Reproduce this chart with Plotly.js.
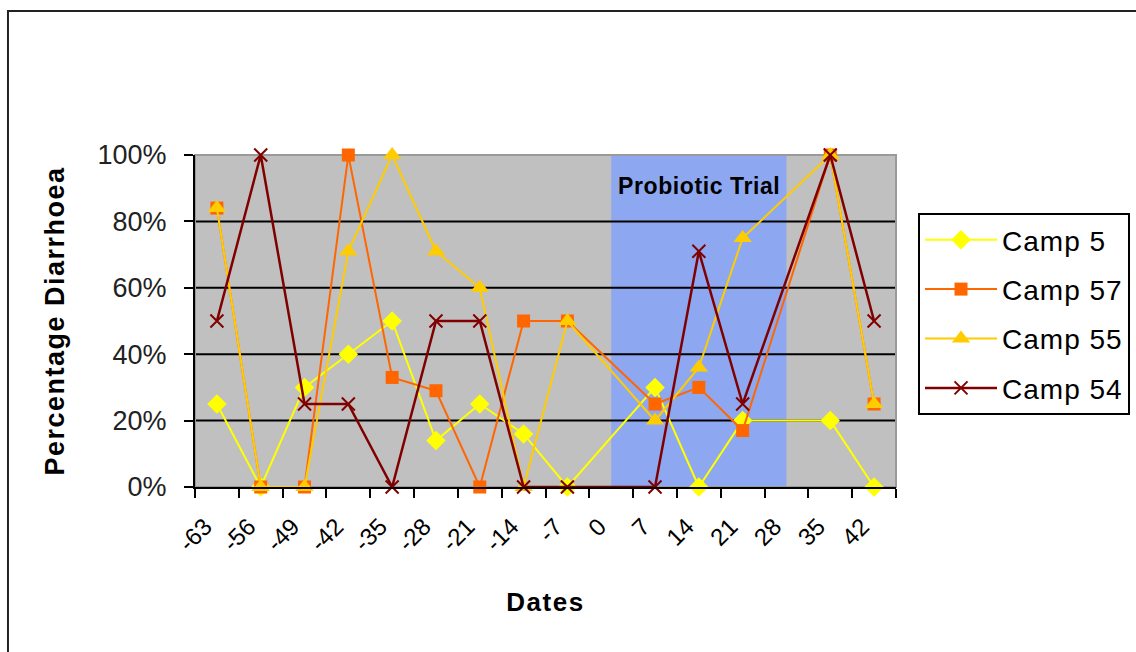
<!DOCTYPE html>
<html>
<head>
<meta charset="utf-8">
<script src="https://cdn.plot.ly/plotly-3.0.1.min.js"></script>
<style>
  html, body { margin: 0; padding: 0; background: #ffffff; }
  #chart { width: 1136px; height: 652px; }
  .xtitle, .ytitle { letter-spacing: 1.5px; }
  .legendtext { letter-spacing: 1px; }
  .annotation-text { letter-spacing: 0.6px; }
</style>
</head>
<body>
<div id="chart"></div>
<script>
// Sampling days relative to the start of the probiotic trial
const days = [-63, -56, -49, -42, -35, -28, -21, -14, -7, 0, 7, 14, 21, 28, 35, 42];
const dayLabels = ["-63", "-56", "-49", "-42", "-35", "-28", "-21", "-14", "-7", "0", "7", "14", "21", "28", "35", "42"];

// Share of animals with diarrhoea per camp (null = no sample that week)
const camp5  = [0.25, 0.00, 0.30, 0.40, 0.50, 0.14, 0.25, 0.16, 0.00, null, 0.30, 0.00, 0.20, null, 0.20, 0.00];
const camp57 = [0.84, 0.00, 0.00, 1.00, 0.33, 0.29, 0.00, 0.50, 0.50, null, 0.25, 0.30, 0.17, null, 1.00, 0.25];
const camp55 = [0.84, 0.00, 0.00, 0.71, 1.00, 0.71, 0.60, 0.00, 0.50, null, 0.20, 0.36, 0.75, null, 1.00, 0.25];
const camp54 = [0.50, 1.00, 0.25, 0.25, 0.00, 0.50, 0.50, 0.00, 0.00, null, 0.00, 0.71, 0.25, null, 1.00, 0.50];

const yTicks = [0, 0.2, 0.4, 0.6, 0.8, 1.0];

// Trial window (days)
const trialStart = 0;
const trialEnd = 28;

const step = 7;
const xMin = days[0] - step / 2;
const xMax = days[days.length - 1] + step / 2;
// category boundaries carry the tick marks
const boundaries = days.map(d => d - step / 2).concat([xMax]);

const FONT = 'Arial, "Liberation Sans", sans-serif';

function series(name, values, color, symbol, size, lineWidth, markerLine) {
  return {
    type: 'scatter',
    mode: 'lines+markers',
    name: name,
    x: days,
    y: values,
    connectgaps: true,
    cliponaxis: false,
    legendgroup: name,
    line: { color: color, width: lineWidth },
    marker: Object.assign({ symbol: symbol, size: size, color: color }, markerLine || {})
  };
}

const traces = [
  series('Camp 5', camp5, '#FFFF00', 'diamond', 15, 2),
  series('Camp 57', camp57, '#FF6600', 'square', 13, 2),
  series('Camp 55', camp55, '#FFCC00', 'triangle-up', 16, 2),
  series('Camp 54', camp54, '#800000', 'x-thin', 13, 2.5, { line: { color: '#800000', width: 2 } })
];

// horizontal gridlines between the axis floor and the frame top
const gridShapes = yTicks.slice(1, -1).map(v => ({
  type: 'line', layer: 'below', xref: 'paper', yref: 'y', x0: 0, x1: 1, y0: v, y1: v,
  line: { color: '#000000', width: 2 }
}));

const layout = {
  width: 1136,
  height: 652,
  margin: { l: 195, r: 240, t: 155, b: 165, autoexpand: false },
  paper_bgcolor: '#ffffff',
  plot_bgcolor: '#C0C0C0',
  font: { family: FONT, color: '#000000' },
  showlegend: true,
  legend: {
    x: 1.0314, xanchor: 'left',
    y: 0.8253, yanchor: 'top',
    bgcolor: '#ffffff',
    bordercolor: '#000000',
    borderwidth: 2,
    font: { family: FONT, size: 28, color: '#000000' },
    tracegroupgap: 10,
    itemwidth: 72
  },
  xaxis: {
    range: [xMin, xMax],
    automargin: false,
    tickmode: 'array',
    tickvals: days,
    ticktext: dayLabels,
    tickangle: -45,
    ticks: '',
    ticklabelshift: -12,
    ticklabelstandoff: 14,
    tickfont: { family: FONT, size: 24, color: '#000000' },
    showgrid: false,
    zeroline: false,
    showline: true,
    linecolor: '#000000',
    linewidth: 2,
    minor: {
      tickmode: 'array',
      tickvals: boundaries,
      ticks: 'outside',
      ticklen: 9,
      tickwidth: 2,
      tickcolor: '#000000',
      showgrid: false
    },
    title: { text: 'Dates', font: { family: FONT, size: 26, color: '#000000', weight: 'bold' }, standoff: 37 }
  },
  yaxis: {
    range: [0, 1],
    automargin: false,
    tickmode: 'array',
    tickvals: yTicks,
    tickformat: '.0%',
    ticks: 'outside',
    ticklen: 9,
    tickwidth: 2,
    tickcolor: '#000000',
    ticklabelstandoff: 12,
    tickfont: { family: FONT, size: 27, color: '#222222' },
    showgrid: false,
    zeroline: false,
    showline: true,
    linecolor: '#000000',
    linewidth: 2,
    title: { text: 'Percentage Diarrhoea', font: { family: FONT, size: 27, color: '#000000', weight: 'bold' }, standoff: 25 }
  },
  shapes: [
    // probiotic trial window
    { type: 'rect', layer: 'below', xref: 'x', yref: 'paper', x0: trialStart, x1: trialEnd, y0: 0, y1: 1,
      fillcolor: '#8DA8F1', line: { width: 0 } }
  ].concat(gridShapes, [
    // plot area frame
    { type: 'rect', layer: 'below', xref: 'paper', yref: 'paper', x0: 0, x1: 1, y0: 0, y1: 1,
      fillcolor: 'rgba(0,0,0,0)', line: { color: '#9A9A9A', width: 2 } },
    // chart frame
    { type: 'rect', layer: 'above', xref: 'paper', yref: 'paper', x0: -0.2668, x1: 1.37, y0: -0.56, y1: 1.4337,
      fillcolor: 'rgba(0,0,0,0)', line: { color: '#222222', width: 2 } }
  ]),
  annotations: [
    { text: '<b>Probiotic Trial</b>', xref: 'x', yref: 'paper', x: (trialStart + trialEnd) / 2, y: 0.907,
      xanchor: 'center', yanchor: 'middle', showarrow: false,
      font: { family: FONT, size: 23, color: '#000000' } }
  ]
};

Plotly.newPlot('chart', traces, layout, { displayModeBar: false, staticPlot: true });
</script>
</body>
</html>
